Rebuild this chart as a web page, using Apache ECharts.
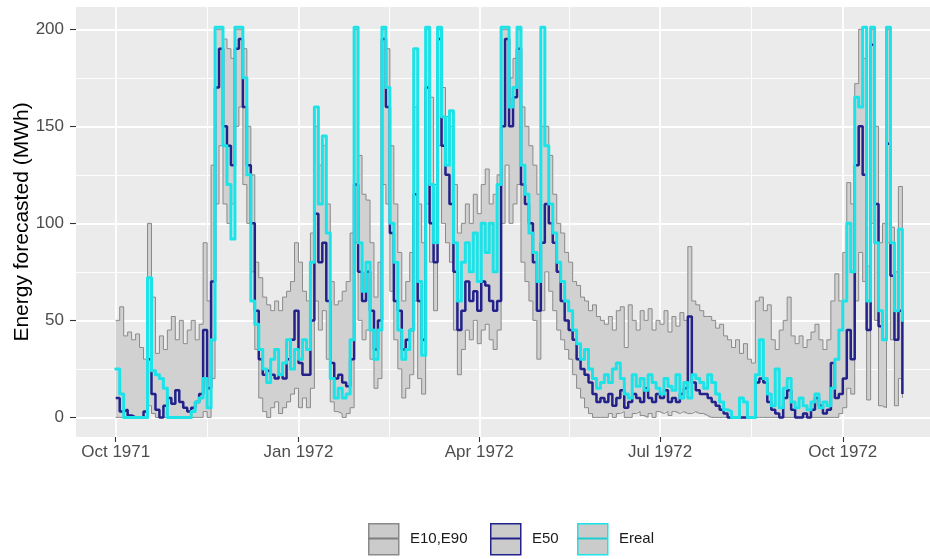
<!DOCTYPE html>
<html>
<head>
<meta charset="utf-8">
<script src="https://cdn.jsdelivr.net/npm/echarts@6/dist/echarts.min.js"></script>
<style>
  html, body { margin: 0; padding: 0; background: #ffffff; }
  #chart { width: 930px; height: 559px; }
</style>
</head>
<body>
<div id="chart"></div>
<script>
// Daily energy forecast quantiles and observed energy, sampled every second day
const firstDate = '1971-10-01';
const stepDays = 2;

const e10 = [
  0, 0, 0, 0, 0, 0, 0, 0, 6, 2,
  0, 0, 0, 0, 0, 0, 0, 0, 0, 0,
  0, 0, 3, 0, 20, 110, 140, 110, 100, 110,
  150, 160, 120, 100, 75, 35, 10, 3, 0, 5,
  8, 2, 5, 8, 12, 15, 5, 10, 5, 15,
  60, 45, 55, 30, 8, 3, 2, 0, 2, 5,
  90, 50, 40, 45, 30, 15, 20, 120, 110, 65,
  40, 25, 10, 15, 22, 60, 20, 12, 110, 80,
  55, 140, 100, 90, 80, 45, 22, 35, 45, 40,
  50, 38, 45, 48, 40, 35, 45, 100, 130, 100,
  110, 120, 80, 70, 60, 50, 30, 55, 75, 65,
  55, 45, 40, 35, 30, 22, 15, 10, 5, 2,
  0, 0, 0, 0, 2, 0, 2, 3, 0, 0,
  2, 3, 1, 0, 2, 0, 3, 2, 3, 1,
  3, 2, 3, 2, 2, 3, 2, 2, 1, 0,
  0, 0, 0, 0, 0, 0, 0, 0, 0, 0,
  0, 0, 0, 0, 0, 0, 0, 0, 0, 0,
  0, 0, 0, 0, 0, 0, 0, 0, 0, 0,
  0, 0, 2, 5, 15, 12, 60, 85, 70, 9,
  100, 50, 6, 5, 90, 40, 6, 20, 10
];

const e50 = [
  10, 3, 4, 1, 0, 0, 0, 3, 30, 12,
  4, 0, 6, 10, 7, 14, 8, 5, 3, 5,
  8, 12, 45, 15, 70, 170, 190, 150, 140, 130,
  190, 195, 160, 130, 100, 55, 30, 22, 24, 22,
  20, 22, 20, 30, 40, 55, 28, 22, 22, 50,
  105, 80, 90, 60, 28, 20, 22, 18, 16, 30,
  120, 75, 60, 75, 55, 35, 50, 195, 160, 95,
  60, 55, 35, 40, 45, 115, 60, 40, 170, 100,
  80, 195, 140, 125, 110, 75, 45, 55, 70, 60,
  65, 55, 70, 68, 60, 55, 60, 150, 195, 150,
  165, 190, 120, 110, 100, 80, 55, 90, 110, 100,
  90, 75, 60, 50, 45, 40, 30, 25, 22, 18,
  12, 8, 10, 8, 12, 6, 10, 14, 5, 8,
  12, 10, 8, 15, 10, 8, 12, 10, 14, 8,
  10, 8, 12, 15, 52, 18, 14, 12, 12, 10,
  8, 6, 4, 2, 0, 0, 0, 0, 0, 0,
  0, 18, 20, 18, 8, 4, 2, 0, 10, 14,
  4, 0, 0, 2, 0, 4, 10, 6, 2, 4,
  28, 10, 12, 20, 45, 30, 130, 150, 125, 45,
  192, 110, 47, 40, 141, 73, 40, 55, 12
];

const e90 = [
  50, 57, 42, 44, 40, 43, 36, 30, 100, 62,
  33, 42, 35, 45, 52, 40, 50, 38, 45, 50,
  40, 48, 90, 60, 130, 200, 200, 195, 190, 185,
  200, 200, 190, 150, 125, 80, 72, 62, 58, 55,
  60, 55, 62, 65, 70, 90, 80, 65, 60, 95,
  150, 130, 140, 110, 70, 58, 60, 65, 70, 95,
  200, 135, 115, 112, 90, 62, 80, 200, 190, 140,
  110, 85, 60, 70, 85, 160, 110, 90, 200, 165,
  120, 200, 170, 155, 150, 120, 95, 100, 110, 100,
  115, 105, 120, 128, 110, 115, 125, 200, 200, 175,
  185, 200, 160, 150, 140, 130, 115, 150, 150, 135,
  115, 100, 95, 85, 80, 70, 68, 62, 60, 55,
  58, 52, 50, 48, 52, 45, 55, 57, 36, 58,
  50, 45, 55, 50, 56, 45, 50, 48, 55, 44,
  52, 47, 54, 50, 88, 60, 58, 55, 52, 52,
  50, 46, 48, 42, 40, 36, 40, 33, 38, 30,
  28, 60, 62, 55, 58, 40, 35, 45, 50, 62,
  42, 38, 42, 36, 40, 44, 48, 40, 35, 40,
  60, 74, 60, 85, 121, 110, 172, 200, 185, 78,
  200, 150, 90, 100, 200, 98, 75, 119, 90
];

const ereal = [
  25, 12, 0, 0, 0, 0, 0, 0, 72, 24,
  22, 20, 15, 0, 0, 0, 0, 0, 0, 3,
  8, 10, 20, 5, 40, 201, 201, 140, 120, 92,
  201, 201, 175, 125, 60, 48, 35, 25, 18, 30,
  35, 22, 28, 40, 25, 35, 30, 40, 35, 80,
  160, 110, 145, 95, 20, 10, 15, 10, 12, 40,
  201, 90, 65, 80, 45, 30, 45, 201, 170, 100,
  80, 45, 30, 35, 45, 190, 70, 32, 201, 120,
  90, 201, 155, 130, 158, 90, 60, 80, 90, 75,
  95, 70, 100, 85, 100, 75, 120, 201, 201, 160,
  170, 201, 130, 115, 95, 85, 70, 201, 140, 110,
  95, 80, 70, 60, 55, 45, 38, 30, 35, 25,
  20, 15, 18, 22, 18, 25, 28, 20, 12, 10,
  22, 16, 20, 14, 22, 18, 15, 12, 20, 16,
  14, 22, 10, 18, 10, 22, 20, 18, 15, 22,
  18, 12, 8, 4, 3, 0, 0, 10, 8, 0,
  0, 22, 40, 20, 12, 6, 25, 5, 15, 20,
  8, 5, 10, 6, 4, 8, 12, 5, 8, 6,
  15, 30, 45, 60, 100, 75, 165, 160, 201, 60,
  201, 90, 55, 40, 201, 90, 55, 97, 50
];

const tickDates = ['1971-10-01', '1972-01-01', '1972-04-01', '1972-07-01', '1972-10-01'];
const tickLabels = ['Oct 1971', 'Jan 1972', 'Apr 1972', 'Jul 1972', 'Oct 1972'];
const yTicks = [0, 50, 100, 150, 200];
const yMinorTicks = [25, 75, 125, 175];
const legendLabels = ['E10,E90', 'E50', 'Ereal'];

// ---- axis helpers: x is measured in days since firstDate ----
const DAY = 86400000;
const t0 = Date.parse(firstDate);
const dayOf = (iso) => Math.round((Date.parse(iso) - t0) / DAY);
const xs = e90.map((_, i) => i * stepDays);
const tickDays = tickDates.map(dayOf);
const minorDays = tickDays.slice(1).map((d, i) => (d + tickDays[i]) / 2);

const xMin = -20;
const xMax = 409.9;
const yMin = -10.1;
const yMax = 211.5;

const FONT = '"Liberation Sans", Arial, Helvetica, sans-serif';
const BAND_LINE = '#8A8A8A';
const BAND_FILL = '#D1D1D1';
const NAVY = '#22228A';
const CYAN = '#1CE3E8';

const pairs = (arr) => arr.map((v, i) => [xs[i], v]);

// staircase vertices (value held until the next sample) of one series
const stepVertices = (arr) => {
  const out = [];
  arr.forEach((v, i) => {
    out.push([xs[i], v]);
    if (i < arr.length - 1) out.push([xs[i + 1], v]);
  });
  return out;
};

// ribbon between E10 and E90, drawn once as a single polygon
const renderBand = (params, api) => {
  if (params.dataIndex !== 0) return null;
  const upper = stepVertices(e90);
  const lower = stepVertices(e10).reverse();
  const points = upper.concat(lower).map((p) => api.coord(p));
  return {
    type: 'polygon',
    shape: { points },
    style: { fill: BAND_FILL, stroke: null },
    silent: true
  };
};

const majorGrid = { show: true, lineStyle: { color: '#FFFFFF', width: 1.8 } };
const minorGrid = { show: true, lineStyle: { color: '#FFFFFF', width: 0.9 } };

const chart = echarts.init(document.getElementById('chart'), null, { renderer: 'canvas' });

// legend keys drawn as boxes with a centre stroke
const legendStyles = [
  { stroke: BAND_LINE, line: '#7E7E7E' },
  { stroke: NAVY, line: NAVY },
  { stroke: CYAN, line: '#22CDD0' }
];
const keyLefts = [368, 490, 577];
const graphics = [];
legendLabels.forEach((label, i) => {
  const x = keyLefts[i];
  graphics.push({
    type: 'rect', left: x, top: 523,
    shape: { width: 30, height: 31 },
    style: { fill: '#CBCBCB', stroke: legendStyles[i].stroke, lineWidth: 1.5 }
  });
  graphics.push({
    type: 'line',
    shape: { x1: x, y1: 538.5, x2: x + 30, y2: 538.5 },
    style: { stroke: legendStyles[i].line, lineWidth: 2 }
  });
  graphics.push({
    type: 'text', left: x + 42, top: 531,
    style: { text: label, fill: '#1A1A1A', font: '15px ' + FONT }
  });
});

const option = {
  animation: false,
  backgroundColor: '#FFFFFF',
  grid: {
    left: 76, right: 0, top: 7, bottom: 122,
    show: true, backgroundColor: '#EBEBEB', borderWidth: 0
  },
  xAxis: [
    {
      type: 'value', min: xMin, max: xMax,
      axisLine: { show: false, onZero: false },
      axisTick: { show: true, customValues: tickDays, length: 5, lineStyle: { color: '#333333', width: 1.1 } },
      axisLabel: {
        customValues: tickDays,
        formatter: (v) => {
          const k = tickDays.indexOf(v);
          return k >= 0 ? tickLabels[k] : '';
        },
        color: '#4D4D4D', fontSize: 17, fontFamily: FONT, margin: 7
      },
      splitLine: majorGrid
    },
    {
      type: 'value', min: xMin, max: xMax, position: 'bottom',
      axisLine: { show: false, onZero: false },
      axisTick: { show: false, customValues: minorDays },
      axisLabel: { show: false, customValues: minorDays },
      splitLine: minorGrid
    }
  ],
  yAxis: [
    {
      type: 'value', min: yMin, max: yMax,
      axisLine: { show: false, onZero: false },
      axisTick: { show: true, customValues: yTicks, length: 6, lineStyle: { color: '#333333', width: 1.1 } },
      axisLabel: { customValues: yTicks, color: '#4D4D4D', fontSize: 17, fontFamily: FONT, margin: 12 },
      splitLine: majorGrid,
      name: 'Energy forecasted (MWh)',
      nameLocation: 'middle', nameGap: 43, nameMoveOverlap: false,
      nameTextStyle: { color: '#000000', fontSize: 21, fontFamily: FONT }
    },
    {
      type: 'value', min: yMin, max: yMax, position: 'left',
      axisLine: { show: false, onZero: false },
      axisTick: { show: false, customValues: yMinorTicks },
      axisLabel: { show: false, customValues: yMinorTicks },
      splitLine: minorGrid
    }
  ],
  series: [
    {
      name: 'E10,E90', type: 'custom', renderItem: renderBand,
      xAxisIndex: 0, yAxisIndex: 0, clip: true,
      data: e90.map((v, i) => [xs[i], e10[i], v]),
      encode: { x: 0, y: [1, 2] },
      z: 1
    },
    {
      name: 'E10', type: 'line', step: 'end', symbol: 'none',
      xAxisIndex: 0, yAxisIndex: 0,
      data: pairs(e10),
      lineStyle: { color: BAND_LINE, width: 1 }, z: 2
    },
    {
      name: 'E90', type: 'line', step: 'end', symbol: 'none',
      xAxisIndex: 0, yAxisIndex: 0,
      data: pairs(e90),
      lineStyle: { color: BAND_LINE, width: 1 }, z: 2
    },
    {
      name: 'E50', type: 'line', step: 'end', symbol: 'none',
      xAxisIndex: 0, yAxisIndex: 0,
      data: pairs(e50),
      lineStyle: { color: NAVY, width: 2.5 }, z: 3
    },
    {
      name: 'Ereal', type: 'line', step: 'end', symbol: 'none',
      xAxisIndex: 0, yAxisIndex: 0,
      data: pairs(ereal),
      lineStyle: { color: CYAN, width: 3, join: 'round', cap: 'round' }, z: 4
    }
  ],
  graphic: graphics
};

chart.setOption(option);
</script>
</body>
</html>
